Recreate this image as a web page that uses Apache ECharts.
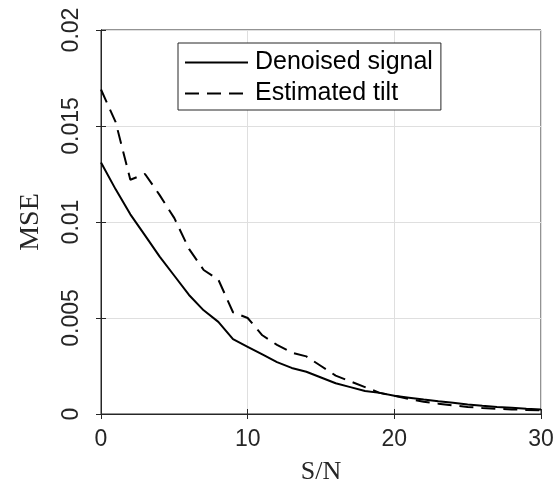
<!DOCTYPE html>
<html>
<head>
<meta charset="utf-8">
<script src="https://cdn.jsdelivr.net/npm/echarts@6/dist/echarts.min.js"></script>
<style>
  html, body { margin: 0; padding: 0; background: #fff; }
  #chart { width: 557px; height: 497px; }
</style>
</head>
<body>
<div id="chart"></div>
<script>
// S/N values (x)
const snr = [0, 1, 2, 3, 4, 5, 6, 7, 8, 9, 10, 11, 12, 13, 14, 15, 16, 17, 18, 19, 20,
  21, 22, 23, 24, 25, 26, 27, 28, 29, 30];
// MSE of the denoised signal
const denoised = [0.0131, 0.0117, 0.0104, 0.0093, 0.0082, 0.0072, 0.0062, 0.0054, 0.0048, 0.0039,
  0.0035, 0.0031, 0.0027, 0.0024, 0.0022, 0.0019, 0.0016, 0.0014, 0.0012, 0.0011, 0.00095,
  0.00085, 0.00075, 0.00066, 0.00058, 0.0005, 0.00043, 0.00037, 0.00032, 0.00027, 0.00023];
// MSE of the estimated tilt
const tilt = [0.0169, 0.0152, 0.0122, 0.0125, 0.0114, 0.0102, 0.0086, 0.0075, 0.0070, 0.0053,
  0.0050, 0.0041, 0.0036, 0.0032, 0.0030, 0.0025, 0.0020, 0.0017, 0.0014, 0.0011, 0.00095,
  0.00078, 0.00064, 0.00054, 0.00045, 0.00037, 0.00031, 0.00027, 0.00024, 0.00021, 0.00019];
const yTicks = ["0", "0.005", "0.01", "0.015", "0.02"];

const chart = echarts.init(document.getElementById("chart"));
const axisColor = "#262626";
const sans = "Liberation Sans";
const serif = "Liberation Serif";

const pairs = (ys) => snr.map((x, i) => [x, ys[i]]);

const option = {
  animation: false,
  grid: { left: 101, right: 16, top: 30, bottom: 83, show: true, borderColor: axisColor, borderWidth: 1 },
  legend: {
    orient: "vertical",
    left: 178, top: 43,
    padding: [7, 8, 4, 6],
    itemGap: 6,
    itemWidth: 63,
    itemHeight: 26,
    backgroundColor: "#fff",
    borderColor: axisColor,
    borderWidth: 1,
    itemStyle: { opacity: 0 },
    textStyle: { fontFamily: sans, fontSize: 25, color: "#000", padding: [0, 0, 0, 2] },
    data: ["Denoised signal", "Estimated tilt"]
  },
  xAxis: [
    {
      type: "value", min: 0, max: 30, interval: 10,
      name: "S/N", nameLocation: "middle", nameGap: 45,
      nameTextStyle: { fontFamily: serif, fontSize: 26, color: axisColor },
      axisLine: { show: true, onZero: false, lineStyle: { color: axisColor } },
      axisTick: { show: true, inside: true, length: 5, lineStyle: { color: axisColor } },
      axisLabel: { fontFamily: sans, fontSize: 23, color: axisColor, margin: 14 },
      splitLine: { show: true, lineStyle: { color: "#dfdfdf" } }
    },
    {
      type: "value", min: 0, max: 30, interval: 10, position: "top",
      axisLine: { show: true, lineStyle: { color: axisColor } },
      axisTick: { show: true, inside: true, length: 5, lineStyle: { color: axisColor } },
      axisLabel: { show: false }, splitLine: { show: false }
    }
  ],
  yAxis: [
    {
      type: "value", min: 0, max: 0.02, interval: 0.005,
      name: "MSE", nameLocation: "middle", nameGap: 56,
      nameTextStyle: { fontFamily: serif, fontSize: 28, color: axisColor },
      axisLine: { show: true, onZero: false, lineStyle: { color: axisColor } },
      axisTick: { show: true, inside: true, length: 5, lineStyle: { color: axisColor } },
      axisLabel: {
        fontFamily: sans, fontSize: 23, color: axisColor, rotate: 90, margin: 18,
        formatter: (v) => yTicks[Math.round(v / 0.005)]
      },
      splitLine: { show: true, lineStyle: { color: "#dfdfdf" } }
    },
    {
      type: "value", min: 0, max: 0.02, interval: 0.005, position: "right",
      axisLine: { show: true, lineStyle: { color: axisColor } },
      axisTick: { show: true, inside: true, length: 5, lineStyle: { color: axisColor } },
      axisLabel: { show: false }, splitLine: { show: false }
    }
  ],
  series: [
    {
      name: "Denoised signal", type: "line", symbol: "none", smooth: false,
      data: pairs(denoised),
      itemStyle: { color: "#000" },
      lineStyle: { color: "#000", width: 2 }
    },
    {
      name: "Estimated tilt", type: "line", symbol: "none", smooth: false,
      data: pairs(tilt),
      itemStyle: { color: "#000" },
      lineStyle: { color: "#000", width: 2, type: [14, 8] }
    }
  ]
};
chart.setOption(option);
</script>
</body>
</html>
